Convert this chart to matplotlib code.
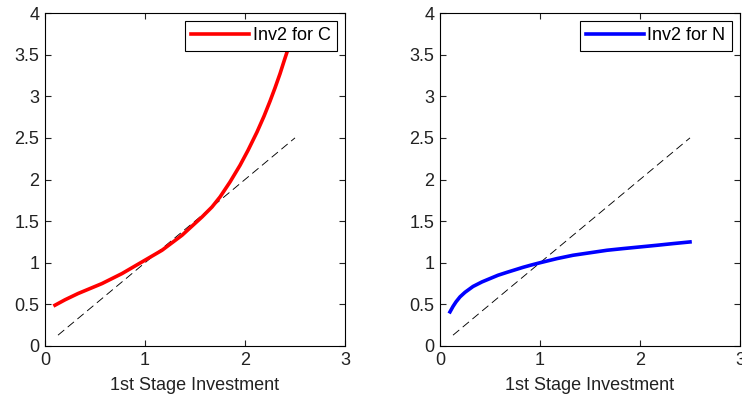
import matplotlib
matplotlib.use('Agg')
import matplotlib.pyplot as plt

plt.rcParams['font.family'] = ['Liberation Sans', 'DejaVu Sans']

# red curve (Inv2 for C)
c_x = [0.1, 0.2, 0.33, 0.45, 0.57, 0.67, 0.77, 0.87, 0.97, 1.07, 1.17, 1.27,
       1.37, 1.47, 1.57, 1.67, 1.75, 1.85, 1.95, 2.03, 2.12, 2.19, 2.25, 2.3,
       2.35, 2.39, 2.42, 2.46, 2.5]
c_y = [0.49, 0.555, 0.63, 0.69, 0.75, 0.81, 0.87, 0.94, 1.01, 1.08, 1.15, 1.24,
       1.33, 1.44, 1.55, 1.67, 1.79, 1.97, 2.17, 2.35, 2.57, 2.76, 2.94, 3.1,
       3.27, 3.42, 3.53, 3.69, 3.86]

# blue curve (Inv2 for N)
n_x = [0.1, 0.13, 0.16, 0.2, 0.25, 0.33, 0.42, 0.5, 0.58, 0.67, 0.75, 0.83,
       0.92, 1.0, 1.17, 1.33, 1.5, 1.67, 1.83, 2.0, 2.17, 2.33, 2.5]
n_y = [0.41, 0.475, 0.53, 0.59, 0.645, 0.715, 0.77, 0.81, 0.85, 0.885, 0.915,
       0.945, 0.975, 1.0, 1.05, 1.09, 1.12, 1.15, 1.17, 1.19, 1.21, 1.23, 1.25]

# 45 degree reference line
diag_x = [0.13, 2.5]
diag_y = [0.13, 2.5]

x_ticks = [0, 1, 2, 3]
y_ticks = [0, 0.5, 1, 1.5, 2, 2.5, 3, 3.5, 4]
y_labels = ['0', '0.5', '1', '1.5', '2', '2.5', '3', '3.5', '4']

fig = plt.figure(figsize=(7.42, 3.98), dpi=100)
ax1 = fig.add_axes([45 / 742, 52 / 398, 300 / 742, 333 / 398])
ax2 = fig.add_axes([440 / 742, 52 / 398, 300 / 742, 333 / 398])

panels = [(ax1, c_x, c_y, 'red', 'Inv2 for C'),
          (ax2, n_x, n_y, 'blue', 'Inv2 for N')]

for ax, xs, ys, col, lab in panels:
    ax.plot(diag_x, diag_y, color='black', linestyle=(0, (9, 5)), linewidth=0.65)
    line, = ax.plot(xs, ys, color=col, linewidth=2.6, label=lab,
                    solid_joinstyle='round')
    ax.set_xlim(0, 3)
    ax.set_ylim(0, 4)
    ax.set_xticks(x_ticks)
    ax.set_yticks(y_ticks)
    ax.set_yticklabels(y_labels)
    ax.tick_params(direction='in', top=True, right=True, length=4,
                   labelsize=13, colors='#222222', pad=4)
    for sp in ax.spines.values():
        sp.set_linewidth(0.8)
    ax.set_xlabel('1st Stage Investment', fontsize=13, labelpad=6,
                  color='#222222')
    leg = ax.legend(handles=[line], loc='upper right', fontsize=13,
                    fancybox=False, framealpha=1, edgecolor='black',
                    handlelength=3.2, borderaxespad=0.45, handletextpad=0.2,
                    borderpad=0.35)
    leg.get_frame().set_linewidth(0.8)

fig.savefig('out.png', dpi=100)
